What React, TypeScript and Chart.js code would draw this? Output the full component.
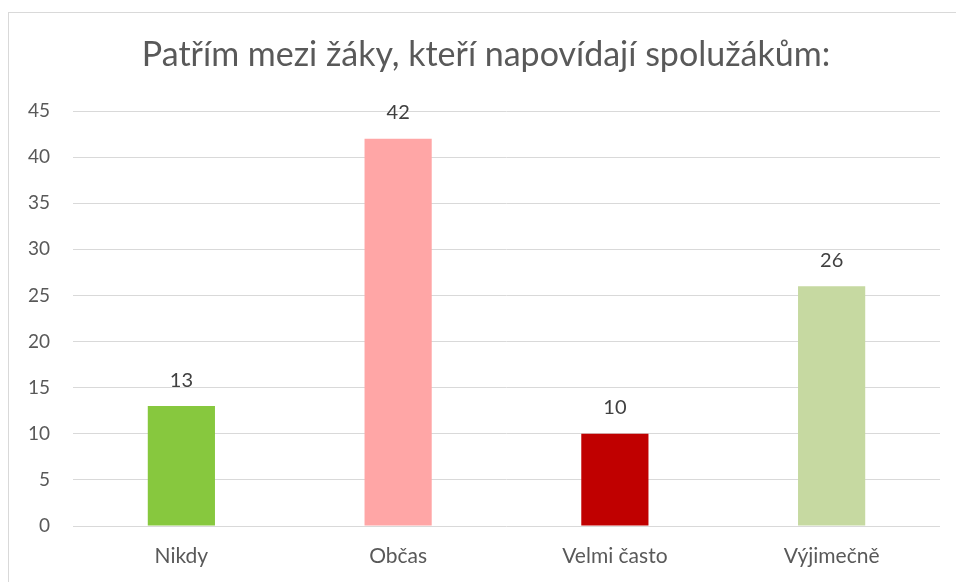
import React, { useEffect, useRef } from "react";
import { Chart, registerables } from "chart.js";

Chart.register(...registerables);

const categories = ["Nikdy", "Občas", "Velmi často", "Výjimečně"];
const values = [13, 42, 10, 26];
const barColors = ["#87C83E", "#FFA6A6", "#C00000", "#C6D9A1"];
const titleText = "Patřím mezi žáky, kteří napovídají spolužákům:";
const FONT = "Lato, 'Noto Sans', sans-serif";

const valueLabels = {
  id: "valueLabels",
  afterDatasetsDraw(chart: any) {
    const ctx = chart.ctx;
    const meta = chart.getDatasetMeta(0);
    ctx.save();
    ctx.font = `20px ${FONT}`;
    ctx.fillStyle = "#404040";
    ctx.textAlign = "center";
    ctx.textBaseline = "middle";
    meta.data.forEach((bar: any, i: number) => {
      ctx.fillText(String(chart.data.datasets[0].data[i]), bar.x, bar.y - 26);
    });
    ctx.restore();
  },
};

// Title centred on the outer chart frame
const frameTitle = {
  id: "frameTitle",
  afterDraw(chart: any) {
    const ctx = chart.ctx;
    ctx.save();
    ctx.font = `34px ${FONT}`;
    ctx.fillStyle = "#595959";
    ctx.textAlign = "center";
    ctx.textBaseline = "alphabetic";
    ctx.fillText(titleText, (8 + chart.width + 8) / 2, 66);
    ctx.restore();
  },
};

export default function App() {
  const ref = useRef<HTMLCanvasElement | null>(null);
  useEffect(() => {
    if (!ref.current) return;
    const chart = new Chart(ref.current, {
      type: "bar",
      data: {
        labels: categories,
        datasets: [
          {
            data: values,
            backgroundColor: barColors,
            borderWidth: 0,
            barPercentage: 0.31,
            categoryPercentage: 1,
          },
        ],
      },
      options: {
        animation: false,
        responsive: false,
        devicePixelRatio: 1,
        layout: { padding: { left: 0, right: 16, top: 111, bottom: 0 } },
        plugins: {
          legend: { display: false },
          tooltip: { enabled: false },
          title: { display: false },
        },
        scales: {
          x: {
            grid: { display: false, drawTicks: false },
            border: { display: false },
            ticks: {
              color: "#595959",
              font: { family: FONT, size: 21 },
              padding: 18,
            },
            afterFit: (s: any) => {
              s.height = 56;
            },
          },
          y: {
            min: 0,
            max: 45,
            grid: { color: "#D9D9D9", lineWidth: 1, drawTicks: false },
            border: { display: false },
            ticks: {
              stepSize: 5,
              color: "#595959",
              font: { family: FONT, size: 19 },
              padding: 23,
            },
            afterFit: (s: any) => {
              s.width = 73;
            },
          },
        },
      },
      plugins: [valueLabels, frameTitle],
    });
    return () => chart.destroy();
  }, []);
  return (
    <div style={{ position: "absolute", left: 0, top: 0, width: 956, height: 582, background: "#fff", overflow: "hidden" }}>
      <div style={{ position: "absolute", left: 8, top: 12, width: 980, height: 600, border: "1px solid #D9D9D9" }} />
      <canvas ref={ref} width={956} height={582} style={{ position: "absolute", left: 0, top: 0 }} />
    </div>
  );
}
